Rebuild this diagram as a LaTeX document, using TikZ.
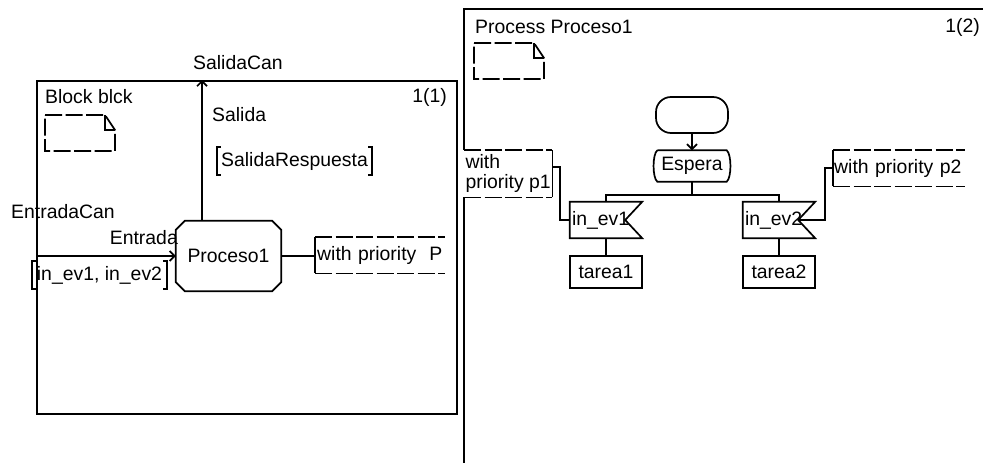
\documentclass[tikz,border=0pt]{standalone}
\usepackage{fontspec}
\setmainfont{Liberation Sans}
\usetikzlibrary{arrows.meta}

\begin{document}
\begin{tikzpicture}[x=1pt,y=-1pt,
  lbl/.style={inner sep=0pt, font=\fontsize{19.4}{20}\selectfont},
  ln/.style={line width=1.7pt},
  frame/.style={line width=2pt},
  dsh/.style={line width=1.7pt, dash pattern=on 17pt off 3.5pt},
  arr/.style={ln, -{Straight Barb[length=5pt,width=10pt]}},
  box/.style={inner sep=0pt, minimum width=72pt},
  note/.pic={
    \draw[dsh] (0,0) -- (60,0) -- (70,15) -- (70,36) -- (0,36) -- cycle;
    \draw[ln] (60,0) -- (60,15) -- (70,15);
  },
]
\useasboundingbox (0,0) rectangle (983,463);

% ---------- block blck ----------
\node[draw, frame, inner sep=0pt, minimum width=420pt, minimum height=333pt, anchor=north west] (blk) at (36,80) {};
\node[lbl, anchor=west] (blkname) at (45,97) {Block blck};
\node[lbl, anchor=east] (blkpage) at (447,97) {1(1)};
\pic at (45,115) {note};

% process instance
\node[box, minimum width=105pt, minimum height=70pt, font=\fontsize{19.4}{20}\selectfont] (proc) at (228.5,256) {Proceso1};
\draw[ln] ([xshift=9pt]proc.north west) -- ([xshift=-9pt]proc.north east)
  -- ([yshift=-9pt]proc.north east) -- ([yshift=9pt]proc.south east)
  -- ([xshift=-9pt]proc.south east) -- ([xshift=9pt]proc.south west)
  -- ([yshift=9pt]proc.south west) -- ([yshift=-9pt]proc.north west) -- cycle;

% output channel
\coordinate (salx) at (202,0);
\draw[arr] (salx |- proc.north) -- (salx |- blk.north);
\node[lbl, anchor=west] (salcan) at (193,63) {SalidaCan};
\node[lbl, anchor=west] (salida) at (212,115) {Salida};
\node[lbl, inner xsep=4pt, minimum height=28pt] (sresp) at (294.5,161) {SalidaRespuesta};
\draw[ln] ([xshift=4pt]sresp.north west) -- (sresp.north west) -- (sresp.south west) -- ([xshift=4pt]sresp.south west);
\draw[ln] ([xshift=-4pt]sresp.north east) -- (sresp.north east) -- (sresp.south east) -- ([xshift=-4pt]sresp.south east);

% input channel
\draw[arr] (blk.west |- proc.west) -- (proc.west);
\node[lbl, anchor=west] (entcan) at (11,212) {EntradaCan};
\node[lbl, anchor=east] (entrada) at (178,238) {Entrada};
\node[lbl, inner xsep=5pt, minimum height=27pt] (sigs) at (99.5,275) {in\_ev1, in\_ev2};
\draw[ln] ([xshift=4pt]sigs.north west) -- (sigs.north west) -- (sigs.south west) -- ([xshift=4pt]sigs.south west);
\draw[ln] ([xshift=-4pt]sigs.north east) -- (sigs.north east) -- (sigs.south east) -- ([xshift=-4pt]sigs.south east);

% priority comment
\node[lbl, anchor=north west, minimum width=130pt, minimum height=36pt, text width=126pt, inner xsep=2pt, align=left] (prio) at (315,237) {with priority\ \ P};
\draw[ln] (prio.north west) -- (prio.south west);
\draw[dsh] (prio.north west) -- (prio.north east);
\draw[dsh] (prio.south west) -- (prio.south east);
\draw[ln] (proc.east) -- (proc.east -| prio.west);

% ---------- process Proceso1 ----------
\coordinate (frtop) at (464,9);
\node[lbl, anchor=north west, minimum width=88pt, minimum height=47pt, align=left] (wp1) at (464,150) {with\\priority p1};
\draw[frame] (983,9) -- (frtop) -- (wp1.north west);
\draw[frame] (wp1.south west) -- (464,463);
\draw[dsh] (wp1.north west) -- (wp1.north east);
\draw[dsh] (wp1.south west) -- (wp1.south east);
\draw[ln] (wp1.north east) -- (wp1.south east);

\node[lbl, anchor=west] (pname) at (475,27) {Process Proceso1};
\node[lbl, anchor=east] (ppage) at (980,27) {1(2)};
\pic at (474,43) {note};

% start and state
\node[draw, ln, minimum width=72pt, minimum height=36pt, rounded corners=15pt] (start) at (692,115) {};
\node[box, minimum width=69pt, minimum height=31pt, font=\fontsize{19.4}{20}\selectfont] (esp) at (692,166) {Espera};
\draw[ln] (esp.north west) -- (esp.north east)
  .. controls +(5,4) and +(5,-4) .. (esp.south east)
  -- (esp.south west)
  .. controls +(-5,-4) and +(-5,4) .. (esp.north west);
\draw[arr] (start.south) -- (esp.north);

% inputs
\tikzset{inp/.style={lbl, minimum width=72pt, minimum height=36pt, text width=68pt, inner xsep=2pt, align=left}}
\node[inp] (in1) at (606,220) {in\_ev1};
\node[inp] (in2) at (779,220) {in\_ev2};
\foreach \n in {in1,in2}{
  \draw[ln] (\n.north west) -- (\n.north east) -- ([xshift=-17pt]\n.east)
    -- (\n.south east) -- (\n.south west) -- cycle;
}
\coordinate (br) at (692,195);
\draw[ln] (esp.south) -- (br);
\draw[ln] (in1.north) |- (br) -| (in2.north);

% tasks
\node[draw, ln, box, minimum height=32pt, font=\fontsize{19.4}{20}\selectfont] (t1) at (606,272) {tarea1};
\node[draw, ln, box, minimum height=32pt, font=\fontsize{19.4}{20}\selectfont] (t2) at (779,272) {tarea2};
\draw[ln] (in1.south) -- (t1.north);
\draw[ln] (in2.south) -- (t2.north);

% priorities
\node[lbl, anchor=north west, minimum width=132pt, minimum height=36pt, text width=130pt, inner xsep=1pt, align=left] (wp2) at (833,150) {with priority p2};
\draw[ln] (wp2.north west) -- (wp2.south west);
\draw[dsh] (wp2.north west) -- (wp2.north east);
\draw[dsh] (wp2.south west) -- (wp2.south east);

\coordinate (p1turn) at (560,167);
\draw[ln] (p1turn -| wp1.east) -- (p1turn) |- (in1.west);
\coordinate (p2turn) at (825,168);
\draw[ln] (p2turn -| wp2.west) -- (p2turn) |- ([xshift=-17pt]in2.east);
\end{tikzpicture}
\end{document}
